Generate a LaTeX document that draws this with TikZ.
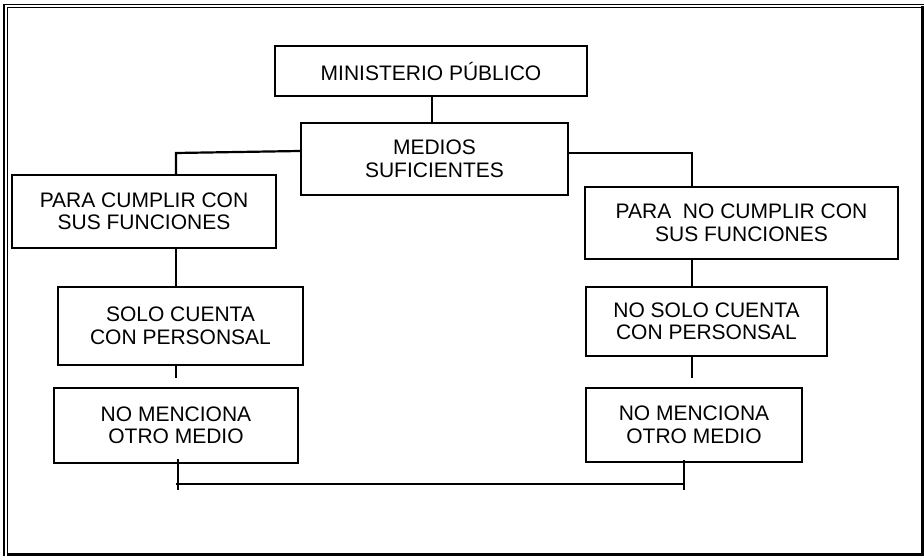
\documentclass[tikz,border=0pt]{standalone}
\usepackage{fontspec}
\setmainfont{Liberation Sans}
\begin{document}
\begin{tikzpicture}[x=1pt,y=-1pt,
  boxnode/.style={draw, line width=2.2pt, inner sep=0pt, align=center,
    font=\fontsize{21}{22.5}\selectfont},
  conn/.style={line width=2.2pt},
  frameline/.style={line width=1.8pt}]
\useasboundingbox (0,0) rectangle (924,556);
% frame
\draw[frameline] (3.7,556) -- (3.7,4.5) -- (924,4.5);
\draw[line width=1.5pt] (7.3,555) -- (7.3,7.3) -- (922,7.3);
\draw[line width=2.6pt] (922.7,6.5) -- (922.7,554.5) -- (6.5,554.5);
% boxes
\node[boxnode, minimum width=312pt, minimum height=50pt] (mp) at (431,71) {MINISTERIO PÚBLICO};
\node[boxnode, minimum width=267pt, minimum height=72pt] (ms) at (434.5,159) {MEDIOS\\SUFICIENTES};
\node[boxnode, minimum width=264pt, minimum height=73pt] (pc) at (144,211.5) {PARA CUMPLIR CON\\SUS FUNCIONES};
\node[boxnode, minimum width=313pt, minimum height=72pt] (pnc) at (741.5,223) {PARA\ \ NO CUMPLIR CON\\SUS FUNCIONES};
\node[boxnode, minimum width=245pt, minimum height=78pt] (sc) at (180.5,326) {SOLO CUENTA\\CON PERSONSAL};
\node[boxnode, minimum width=244pt, minimum height=75pt] (nm1) at (176,425.5) {NO MENCIONA\\OTRO MEDIO};
\node[boxnode, minimum width=241pt, minimum height=69pt] (nsc) at (706.5,321.5) {NO SOLO CUENTA\\CON PERSONSAL};
\node[boxnode, minimum width=216pt, minimum height=74pt] (nm2) at (694,425) {NO MENCIONA\\OTRO MEDIO};
% helper coordinates
\coordinate (lx) at (176,153);
\coordinate (rx) at (692,153);
\coordinate (ls) at (176,378);
\coordinate (rs) at (692,378);
\coordinate (lb) at (178,490);
\coordinate (rb) at (684,490);
\coordinate (lh) at (176,484);
\coordinate (rh) at (684,484);
% connectors
\draw[conn] ([xshift=1pt]mp.south) -- ([xshift=1pt]mp.south |- ms.north);
\draw[conn] ([yshift=8pt]ms.west) -- (lx) -- (lx |- pc.north);
\draw[conn] ([yshift=6pt]ms.east) -- (rx) -- (rx |- pnc.north);
\draw[conn] (lx |- pc.south) -- (lx |- sc.north);
\draw[conn] (rx |- pnc.south) -- (rx |- nsc.north);
\draw[conn] (ls |- sc.south) -- (ls);
\draw[conn] ([yshift=2pt]rs |- nsc.south) -- (rs);
\draw[conn] ([yshift=5pt]lb |- nm1.south) -- (lb);
\draw[conn] ([yshift=3pt]rb |- nm2.south) -- (rb);
\draw[conn] (lh) -- (rh);
\end{tikzpicture}
\end{document}
